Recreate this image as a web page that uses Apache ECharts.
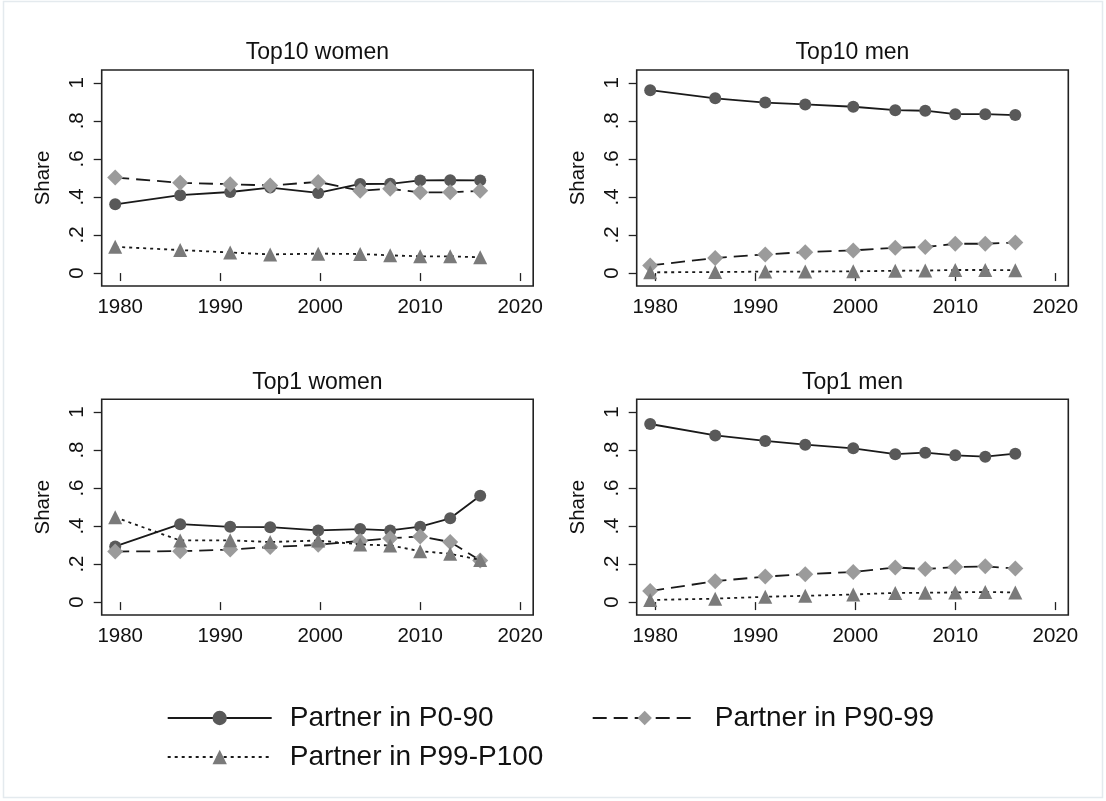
<!DOCTYPE html>
<html>
<head>
<meta charset="utf-8">
<script src="https://cdn.jsdelivr.net/npm/echarts@6/dist/echarts.min.js"></script>
<style>html,body{margin:0;padding:0;background:#fff}#c{width:1106px;height:801px}</style>
</head>
<body>
<div id="c"></div>
<script>
// ---- data ----
const years = [1979.5, 1986, 1991, 1995, 1999.8, 2004, 2007, 2010, 2013, 2016];
const panelTitles = ['Top10 women', 'Top10 men', 'Top1 women', 'Top1 men'];
const seriesNames = ['Partner in P0-90', 'Partner in P90-99', 'Partner in P99-P100'];

const top10WomenP0_90   = [0.361, 0.409, 0.426, 0.449, 0.421, 0.468, 0.469, 0.487, 0.488, 0.487];
const top10WomenP90_99  = [0.502, 0.474, 0.467, 0.460, 0.479, 0.433, 0.443, 0.424, 0.424, 0.432];
const top10WomenP99_100 = [0.138, 0.121, 0.108, 0.098, 0.102, 0.100, 0.093, 0.088, 0.088, 0.083];

const top10MenP0_90   = [0.961, 0.918, 0.896, 0.886, 0.874, 0.856, 0.853, 0.835, 0.835, 0.830];
const top10MenP90_99  = [0.040, 0.079, 0.098, 0.110, 0.119, 0.133, 0.137, 0.154, 0.154, 0.160];
const top10MenP99_100 = [0.004, 0.005, 0.008, 0.008, 0.009, 0.012, 0.013, 0.016, 0.016, 0.015];

const top1WomenP0_90   = [0.293, 0.410, 0.396, 0.394, 0.377, 0.384, 0.377, 0.397, 0.441, 0.559];
const top1WomenP90_99  = [0.266, 0.268, 0.276, 0.290, 0.301, 0.322, 0.336, 0.345, 0.316, 0.219];
const top1WomenP99_100 = [0.446, 0.324, 0.325, 0.316, 0.324, 0.303, 0.298, 0.268, 0.254, 0.222];

const top1MenP0_90   = [0.937, 0.877, 0.848, 0.828, 0.809, 0.778, 0.786, 0.772, 0.765, 0.781];
const top1MenP90_99  = [0.058, 0.110, 0.134, 0.147, 0.158, 0.182, 0.174, 0.184, 0.188, 0.177];
const top1MenP99_100 = [0.011, 0.018, 0.028, 0.033, 0.040, 0.048, 0.049, 0.051, 0.053, 0.051];

const xTickValues = [1980, 1990, 2000, 2010, 2020];
const yTickValues = [0, 0.2, 0.4, 0.6, 0.8, 1];
const yTickLabels = ['0', '.2', '.4', '.6', '.8', '1'];

// ---- chart construction ----
const panels = [
  [top10WomenP0_90, top10WomenP90_99, top10WomenP99_100],
  [top10MenP0_90, top10MenP90_99, top10MenP99_100],
  [top1WomenP0_90, top1WomenP90_99, top1WomenP99_100],
  [top1MenP0_90, top1MenP90_99, top1MenP99_100]
];

const FONT = 'Liberation Sans';
const grids = [
  {left: 101.7, top: 70, width: 431.5, height: 216},
  {left: 636.7, top: 70, width: 431.6, height: 216},
  {left: 101.7, top: 399.3, width: 431.5, height: 215.7},
  {left: 636.7, top: 399.3, width: 431.6, height: 215.7}
];
const styles = [
  {symbol: 'circle', size: 12, color: '#595959', line: 'solid'},
  {symbol: 'diamond', size: 16, color: '#9b9b9b', line: [14, 7]},
  {symbol: 'triangle', size: 14, color: '#7a7a7a', line: [3, 4]}
];

const grid = grids.map(g => Object.assign({show: true, borderColor: '#222', borderWidth: 1.6, backgroundColor: '#fff'}, g));

const xAxis = grids.map((g, i) => ({
  type: 'value', gridIndex: i, min: 1978.15, max: 2021.3,
  splitLine: {show: false},
  axisLine: {show: false},
  axisTick: {show: true, length: 8, inside: false, customValues: xTickValues, lineStyle: {color: '#222', width: 1.3}},
  axisLabel: {show: true, customValues: xTickValues, margin: 11, color: '#111', fontSize: 20.5, fontFamily: FONT,
              formatter: v => String(Math.round(v))}
}));

const yAxis = grids.map((g, i) => ({
  type: 'value', gridIndex: i, min: -0.068, max: 1.067,
  name: 'Share', nameLocation: 'middle', nameGap: 48, nameRotate: 90,
  nameTextStyle: {fontSize: 20.5, color: '#111', fontFamily: FONT},
  splitLine: {show: false},
  axisLine: {show: false},
  axisTick: {show: true, length: 8, customValues: yTickValues, lineStyle: {color: '#222', width: 1.3}},
  axisLabel: {show: true, customValues: yTickValues, rotate: 90, margin: 14, color: '#111', fontSize: 20.5, fontFamily: FONT,
              formatter: v => { const k = yTickValues.findIndex(t => Math.abs(t - v) < 1e-6); return k >= 0 ? yTickLabels[k] : ''; }}
}));

const series = [];
panels.forEach((arrs, p) => {
  arrs.forEach((vals, s) => {
    const st = styles[s];
    series.push({
      name: seriesNames[s], type: 'line', xAxisIndex: p, yAxisIndex: p,
      data: years.map((y, k) => [y, vals[k]]),
      symbol: st.symbol, symbolSize: st.size, showSymbol: true,
      itemStyle: {color: st.color, borderWidth: 0},
      lineStyle: {color: '#1a1a1a', width: 1.8, type: st.line},
      emphasis: {disabled: true}, animation: false, z: 2 + s
    });
  });
});

const titleCenters = [[317.4, 41], [852.5, 41], [317.4, 371], [852.5, 371]];
const title = panelTitles.map((t, i) => ({
  text: t, left: titleCenters[i][0], top: titleCenters[i][1], textAlign: 'center', padding: 0,
  textStyle: {fontSize: 23, fontWeight: 'normal', color: '#111', fontFamily: FONT}
}));

const legendBase = {
  orient: 'horizontal', padding: 0, itemWidth: 104, itemHeight: 18, itemGap: 0,
  selectedMode: false,
  textStyle: {fontSize: 28, color: '#111', fontFamily: FONT, padding: [0, 0, 0, 13]}
};
const legend = [
  Object.assign({}, legendBase, {left: 166.7, top: 704, data: [seriesNames[0]]}),
  Object.assign({}, legendBase, {left: 591.7, top: 704, data: [seriesNames[1]]}),
  Object.assign({}, legendBase, {left: 166.7, top: 743, data: [seriesNames[2]]})
];

const chart = echarts.init(document.getElementById('c'), null, {renderer: 'canvas'});
chart.setOption({
  backgroundColor: '#fff',
  animation: false,
  title, legend, grid, xAxis, yAxis, series,
  graphic: [{type: 'rect', shape: {x: 3.5, y: 1.5, width: 1099, height: 796}, style: {fill: 'none', stroke: '#e4eaee', lineWidth: 1.5}, silent: true, z: -10}]
});
</script>
</body>
</html>
